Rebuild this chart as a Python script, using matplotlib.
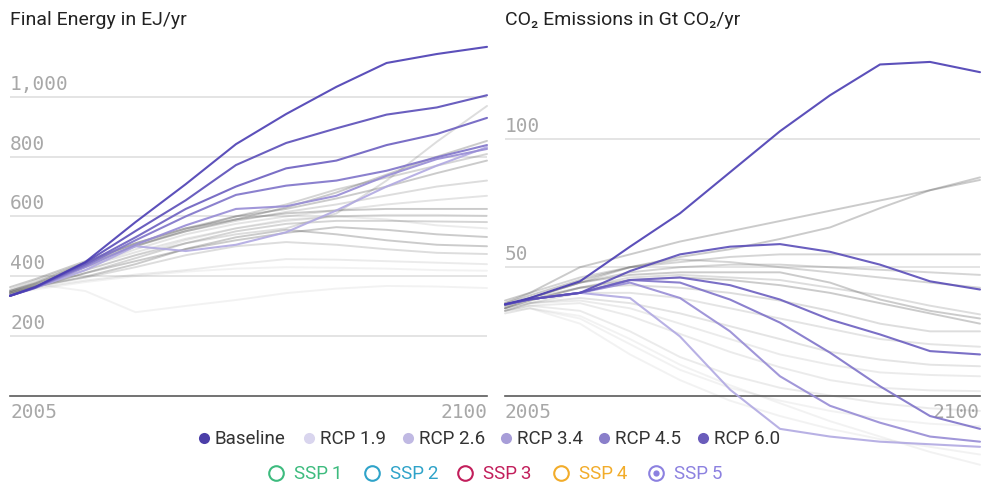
import matplotlib
matplotlib.use("Agg")
import matplotlib.pyplot as plt

plt.rcParams['font.family'] = ['Roboto', 'DejaVu Sans']

# ---- data -------------------------------------------------------------
years = [2005, 2010, 2020, 2030, 2040, 2050, 2060, 2070, 2080, 2090, 2100]
scenarios = ["Baseline", "RCP 1.9", "RCP 2.6", "RCP 3.4", "RCP 4.5", "RCP 6.0"]
ssp_names = ["SSP1", "SSP2", "SSP3", "SSP4", "SSP5"]

# Final energy, SSP5 (EJ/yr)
fe_baseline = [334, 363, 447, 581, 708, 842, 943, 1034, 1114, 1144, 1168]
fe_rcp60 = [334, 362, 445, 551, 654, 772, 846, 895, 941, 965, 1006]
fe_rcp45 = [334, 362, 440, 530, 625, 700, 761, 787, 839, 876, 930]
fe_rcp34 = [334, 361, 435, 520, 600, 672, 703, 720, 753, 798, 839]
fe_rcp26 = [334, 360, 430, 505, 570, 625, 634, 669, 736, 792, 826]
fe_rcp19 = [334, 360, 420, 500, 484, 505, 547, 620, 700, 770, 832]

# Final energy, other SSPs (EJ/yr) and their scenario
fe_other = [
    [345, 368, 420, 470, 510, 540, 560, 610, 720, 850, 970],
    [350, 375, 440, 500, 550, 590, 630, 680, 740, 800, 853],
    [345, 370, 435, 500, 555, 600, 640, 690, 730, 770, 809],
    [350, 378, 445, 510, 560, 600, 625, 660, 700, 745, 787],
    [355, 385, 445, 505, 550, 585, 615, 640, 670, 700, 720],
    [345, 372, 430, 490, 540, 575, 600, 620, 640, 655, 669],
    [363, 390, 450, 510, 560, 590, 610, 620, 625, 625, 625],
    [350, 375, 430, 480, 525, 560, 585, 600, 605, 605, 602],
    [340, 362, 410, 460, 510, 550, 575, 585, 585, 583, 581],
    [345, 368, 420, 470, 520, 560, 590, 600, 590, 570, 560],
    [340, 365, 410, 450, 490, 520, 545, 564, 555, 540, 531],
    [334, 365, 398, 440, 491, 530, 555, 540, 520, 505, 500],
    [345, 365, 395, 430, 470, 500, 514, 505, 490, 478, 474],
    [340, 360, 385, 405, 420, 440, 457, 455, 450, 445, 440],
    [340, 355, 380, 400, 415, 425, 430, 428, 425, 420, 418],
    [345, 373, 350, 279, 300, 320, 343, 358, 367, 365, 360],
]
fe_other_scen = ["RCP 4.5", "Baseline", "RCP 6.0", "Baseline", "RCP 4.5",
                 "RCP 3.4", "Baseline", "RCP 3.4", "RCP 6.0", "RCP 2.6",
                 "Baseline", "Baseline", "RCP 4.5", "RCP 2.6", "RCP 1.9",
                 "RCP 1.9"]

# CO2 emissions, SSP5 (Gt CO2/yr)
co2_baseline = [35.5, 38, 44.5, 58, 71, 87, 103, 117, 129, 130, 126]
co2_rcp60 = [35.5, 37.5, 40, 48.5, 55, 58, 59, 56, 51, 44.5, 41.3]
co2_rcp45 = [35.5, 37.5, 40, 45, 46, 43, 37.4, 29.6, 23.8, 17.3, 16]
co2_rcp34 = [35.5, 37.5, 40, 45, 44, 37.4, 28.4, 16.7, 3.6, -8, -13]
co2_rcp26 = [35.5, 37.5, 40, 44, 38, 25, 7.5, -4, -10.6, -16, -18]
co2_rcp19 = [35.5, 37.5, 40, 38, 23, 2.3, -13, -16, -18, -19, -20]

# CO2 emissions, other SSPs (Gt CO2/yr) and their scenario
co2_other = [
    [37, 40, 50, 55, 60, 64, 68, 72, 76, 80, 85],
    [36, 39, 45, 50, 54, 57, 61, 65.5, 73, 80, 84],
    [36, 40, 46, 50, 52, 54, 55, 55, 55, 55, 55],
    [35, 38, 44, 48, 50, 51, 51, 50, 49, 48, 47],
    [34, 38, 44, 47, 48, 48, 48, 44, 37.4, 33, 30],
    [34, 37, 42, 46, 47, 46, 45, 42, 39, 35, 31.6],
    [35, 38, 42, 43, 42, 40, 37, 33, 28, 25, 25],
    [35, 38, 44, 50, 53, 52, 50, 48, 46, 44, 42],
    [34, 37, 42, 45, 46, 45, 43, 40, 36, 32, 28],
    [33, 36, 40, 40, 38, 34, 30, 26, 22, 20, 19],
    [33, 36, 38, 36, 32, 27, 22, 17, 14, 12, 11.4],
    [34, 36, 37, 34, 28, 22, 16, 12, 9, 8, 7.5],
    [33, 35, 36, 31, 24, 17, 11, 6, 3, 2, 1.7],
    [33, 35, 33, 25, 15, 8, 3, 0, -3, -5, -6],
    [32, 34, 30, 20, 10, 3, -2, -6, -9, -11, -12],
    [32, 34, 28, 16, 6, -2, -8, -13, -17, -20, -23],
    [33, 34, 31, 22, 12, 4, -3, -10, -16, -22, -27],
]
co2_other_scen = ["Baseline", "Baseline", "RCP 6.0", "RCP 6.0", "Baseline",
                  "RCP 4.5", "RCP 4.5", "RCP 6.0", "Baseline", "RCP 3.4",
                  "RCP 3.4", "RCP 2.6", "RCP 2.6", "RCP 2.6", "RCP 1.9",
                  "RCP 1.9", "RCP 1.9"]

fe_ticks = [200, 400, 600, 800, 1000]
co2_ticks = [50, 100]

# ---- styling -----------------------------------------------------------
line_colors = {"Baseline": "#4a3db3", "RCP 6.0": "#5a4db8",
               "RCP 4.5": "#6c5fc0", "RCP 3.4": "#7f73c9",
               "RCP 2.6": "#978cd5", "RCP 1.9": "#b1a9e2"}
dot_colors = {"Baseline": "#4b3ea8", "RCP 1.9": "#d9d5ee",
              "RCP 2.6": "#c0b9e3", "RCP 3.4": "#a79dd8",
              "RCP 4.5": "#8a7fca", "RCP 6.0": "#6a5cbb"}
gray_alpha = {"Baseline": 0.32, "RCP 6.0": 0.26, "RCP 4.5": 0.21,
              "RCP 3.4": 0.17, "RCP 2.6": 0.12, "RCP 1.9": 0.08}
ssp_colors = ["#3dbb7e", "#2fa3c9", "#c21e5b", "#f2ac2a", "#8c81e0"]

W, H = 983, 489
fig = plt.figure(figsize=(W / 100, H / 100), dpi=100)

mono = "DejaVu Sans Mono"
tick_gray = "#a8a8a8"


def make_panel(left_px, right_px, units_per_px, title,
               others, other_scen, ssp5, ticks, tick_fmt):
    top_px, zero_px = 40, 396.5
    ax = fig.add_axes([left_px / W, (H - zero_px) / H,
                       (right_px - left_px) / W, (zero_px - top_px) / H])
    ax.set_xlim(2005, 2100)
    ax.set_ylim(0, (zero_px - top_px) * units_per_px)
    for s in ax.spines.values():
        s.set_visible(False)
    ax.axhline(0, color="#5a5a5a", lw=1.2, zorder=1, clip_on=False)
    for t in ticks:
        ax.axhline(t, color="#dcdcdc", lw=1.1, zorder=0)
        ax.annotate(tick_fmt(t), xy=(0, t), xycoords=("axes fraction", "data"),
                    xytext=(0, 3), textcoords="offset points",
                    ha="left", va="bottom", fontsize=14, family=mono,
                    color=tick_gray)
    ax.set_yticks([])
    ax.set_xticks([2005, 2100])
    ax.set_xticklabels(["2005", "2100"], family=mono, fontsize=14,
                       color=tick_gray)
    labs = ax.get_xticklabels()
    labs[0].set_ha("left")
    labs[1].set_ha("right")
    ax.tick_params(axis="x", length=0, pad=5)

    for vals, sc in zip(others, other_scen):
        ax.plot(years, vals, color="#606060", alpha=gray_alpha[sc], lw=1.4,
                zorder=2, clip_on=False, solid_capstyle="round")
    order = ["RCP 1.9", "RCP 2.6", "RCP 3.4", "RCP 4.5", "RCP 6.0", "Baseline"]
    for sc in order:
        ax.plot(years, ssp5[sc], color=line_colors[sc], alpha=0.9, lw=1.5,
                zorder=3, clip_on=False, solid_capstyle="round")
    fig.text(left_px / W, 1 - 20 / H, title, ha="left", va="center",
             fontsize=14, color="#222222")
    return ax


fe_ssp5 = {"Baseline": fe_baseline, "RCP 6.0": fe_rcp60, "RCP 4.5": fe_rcp45,
           "RCP 3.4": fe_rcp34, "RCP 2.6": fe_rcp26, "RCP 1.9": fe_rcp19}
co2_ssp5 = {"Baseline": co2_baseline, "RCP 6.0": co2_rcp60,
            "RCP 4.5": co2_rcp45, "RCP 3.4": co2_rcp34,
            "RCP 2.6": co2_rcp26, "RCP 1.9": co2_rcp19}

make_panel(10, 487, 1 / 0.2985, "Final Energy in EJ/yr",
           fe_other, fe_other_scen, fe_ssp5, fe_ticks,
           lambda v: f"{v:,}")
make_panel(505, 980, 1 / 2.566, "CO\u2082 Emissions in Gt CO\u2082/yr",
           co2_other, co2_other_scen, co2_ssp5, co2_ticks,
           lambda v: f"{v}")

# ---- legends -------------------------------------------------------------
lg = fig.add_axes([0, 0, 1, 1], zorder=10)
lg.set_xlim(0, W)
lg.set_ylim(H, 0)
lg.axis("off")

row1_x = [204, 309, 408, 506, 604, 703]
for x, sc in zip(row1_x, scenarios):
    lg.plot([x], [439], "o", ms=8, color=dot_colors[sc], mec="none")
    lg.text(x + 11, 439, sc, ha="left", va="center", fontsize=13.5,
            color="#333333")

row2_x = [276, 372, 465, 561, 656]
for i, (x, name, col) in enumerate(zip(row2_x, ssp_names, ssp_colors)):
    lg.plot([x], [474], "o", ms=10.5, mfc="white", mec=col, mew=1.5)
    if i == 4:
        lg.plot([x], [474], "o", ms=4.5, color=col, mec="none")
    lg.text(x + 18, 474, name[:3] + "\u2009" + name[3:], ha="left",
            va="center", fontsize=13.5, color=col)

fig.savefig("out.png", dpi=100)
